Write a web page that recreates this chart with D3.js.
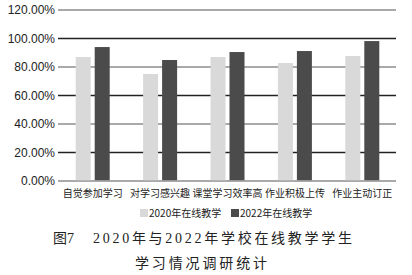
<!doctype html>
<html lang="zh">
<head>
  <meta charset="utf-8">
  <title>图7</title>
  <script src="https://d3js.org/d3.v7.min.js"></script>
  <style>
    body { margin: 0; background: #fff; }
  </style>
</head>
<body>
  <div id='my_chart'></div>
</body>
<script>
  const width = 412;
  const height = 275;
  const margin = {top: 10, right: 16, bottom: 94, left: 59};

  // data
  const categories = ["自觉参加学习", "对学习感兴趣", "课堂学习效率高", "作业积极上传", "作业主动订正"];
  const series_names = ["2020年在线教学", "2022年在线教学"];
  const values_2020 = [87.0, 75.1, 87.0, 82.8, 87.7];
  const values_2022 = [94.0, 84.9, 90.5, 91.2, 98.2];
  const y_ticks = [0, 20, 40, 60, 80, 100, 120];
  const colors = ["#d9d9d9", "#4b4b4b"];

  const rows = categories.map((c, i) => ({cat: c, vals: [values_2020[i], values_2022[i]]}));

  const x0 = d3.scaleBand()
    .domain(categories)
    .range([margin.left, width - margin.right])
    .padding(0);
  const x1 = d3.scaleBand()
    .domain(series_names)
    .range([x0.bandwidth() / 2 - 17, x0.bandwidth() / 2 + 17])
    .paddingInner(0.21)
    .paddingOuter(0);
  const y = d3.scaleLinear()
    .domain([0, 120])
    .range([height - margin.bottom, margin.top]);

  const svg = d3.select('#my_chart').append('svg')
    .attr('width', width)
    .attr('height', height)
    .style('background', '#fff');

  // grid lines (alternating grey / black)
  svg.append('g')
    .selectAll('line')
    .data(y_ticks)
    .enter()
    .append('line')
      .attr('x1', margin.left - 1)
      .attr('x2', width - margin.right)
      .attr('y1', d => y(d))
      .attr('y2', d => y(d))
      .attr('stroke', (d, i) => i % 2 === 0 ? '#8c8c8c' : '#222')
      .attr('stroke-width', 1.6);

  // y axis labels
  svg.append('g')
    .selectAll('text')
    .data(y_ticks)
    .enter()
    .append('text')
      .attr('x', margin.left - 4)
      .attr('y', d => y(d))
      .attr('dy', '0.35em')
      .attr('text-anchor', 'end')
      .style('font-family', '"Liberation Sans", Arial, sans-serif')
      .style('font-size', '12px')
      .style('fill', '#222')
      .text(d => d3.format('.2f')(d) + '%');

  // bars
  const groups = svg.append('g')
    .selectAll('g')
    .data(rows)
    .enter()
    .append('g')
      .attr('transform', d => 'translate(' + x0(d.cat) + ',0)');
  groups.selectAll('rect')
    .data(d => d.vals.map((v, i) => ({name: series_names[i], v: v, i: i})))
    .enter()
    .append('rect')
      .attr('x', d => x1(d.name))
      .attr('width', x1.bandwidth())
      .attr('y', d => y(d.v))
      .attr('height', d => y(0) - y(d.v) - 0.8)
      .style('fill', d => colors[d.i]);

  // x labels
  svg.append('g')
    .selectAll('text')
    .data(categories)
    .enter()
    .append('text')
      .attr('x', d => x0(d) + x0.bandwidth() / 2)
      .attr('y', y(0) + 16)
      .attr('text-anchor', 'middle')
      .style('font-family', '"Noto Sans CJK SC", sans-serif')
      .style('font-size', '10px')
      .style('fill', '#222')
      .text(d => d);

  // legend
  const legend = svg.append('g')
    .selectAll('g')
    .data(series_names)
    .enter()
    .append('g')
      .attr('transform', (d, i) => 'translate(' + (140 + i * 91) + ',' + 213 + ')');
  legend.append('rect')
    .attr('x', 0)
    .attr('y', -4)
    .attr('width', 8)
    .attr('height', 8)
    .style('fill', (d, i) => colors[i]);
  legend.append('text')
    .attr('x', 9)
    .attr('y', 0)
    .attr('dy', '0.35em')
    .style('font-family', '"Noto Sans CJK SC", sans-serif')
    .style('font-size', '10px')
    .style('fill', '#222')
    .text(d => d);

  // caption
  const caption = svg.append('g')
    .style('font-family', '"Liberation Serif", "Noto Sans CJK SC", serif')
    .style('font-size', '14px')
    .style('fill', '#222');
  caption.append('text')
    .attr('x', 53)
    .attr('y', 243)
    .text('图7');
  caption.append('text')
    .attr('x', 93)
    .attr('y', 243)
    .attr('textLength', 259)
    .text('2020年与2022年学校在线教学学生');
  caption.append('text')
    .attr('x', 135)
    .attr('y', 268)
    .attr('textLength', 132)
    .text('学习情况调研统计');
</script>
</html>
